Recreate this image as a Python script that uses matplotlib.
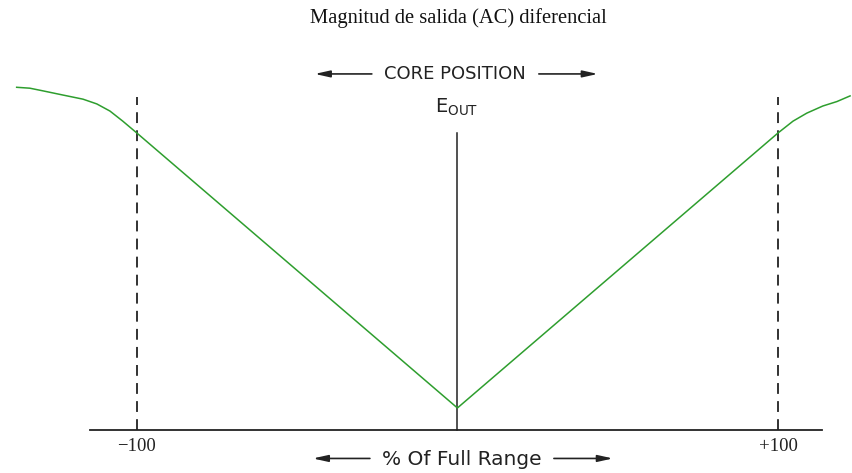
import matplotlib
matplotlib.use("Agg")
import matplotlib.pyplot as plt

# salida diferencial vs posicion del nucleo (% del rango)
posicion = [-137.5, -133.4, -129.3, -123.1, -116.8, -112.5, -108.4, -104.4, -100,
            0, 100, 104.7, 109.0, 114.0, 118.4, 122.5]
salida = [115.4, 115.1, 114.2, 112.8, 111.4, 109.8, 107.4, 104.0, 100,
          7.4, 100, 104.0, 106.7, 109.1, 110.6, 112.5]

marcas = [-100, 100]
marcas_txt = ["\u2212100", "+100"]

verde = "#2e9e2e"
gris = "#222222"

fig = plt.figure(figsize=(8.52, 4.73), dpi=100)
ax = fig.add_axes([0, 0, 1, 1])
ax.set_xlim(-142.7, 123.1)
ax.set_ylim(-14.5, 144.8)
ax.axis("off")

# eje horizontal y eje central
ax.plot([-114.7, 113.7], [0, 0], color=gris, lw=1.3)
ax.plot([0, 0], [0, 100], color=gris, lw=1.1)

# limites de rango
for m in marcas:
    ax.plot([m, m], [0, 112], color=gris, lw=1.3, linestyle=(0, (6, 4)))

ax.plot(posicion, salida, color=verde, lw=1.1)

for m, t in zip(marcas, marcas_txt):
    ax.text(m, -5.6, t, ha="center", va="center", fontsize=13.5,
            family="Liberation Serif", color=gris)

ax.text(0.3, 138.7, "Magnitud de salida (AC) diferencial", ha="center",
        va="center", fontsize=14.8, family="Liberation Serif", color="#111111")

ax.text(-0.8, 119.9, "CORE POSITION", ha="center", va="center",
        fontsize=13, color=gris)
ax.text(-6.9, 108.8, r"E$_{\mathregular{OUT}}$", ha="left", va="center",
        fontsize=14, color=gris)
ax.text(1.4, -9.9, "% Of Full Range", ha="center", va="center",
        fontsize=14.5, color=gris)

flecha = dict(arrowstyle="-|>,head_length=0.9,head_width=0.2", color=gris,
              lw=1.2, shrinkA=0, shrinkB=0)
ax.annotate("", xy=(-44.5, 119.9), xytext=(-26.7, 119.9), arrowprops=flecha)
ax.annotate("", xy=(43.8, 119.9), xytext=(25.4, 119.9), arrowprops=flecha)
ax.annotate("", xy=(-45.1, -9.6), xytext=(-27.3, -9.6), arrowprops=flecha)
ax.annotate("", xy=(48.5, -9.6), xytext=(30.1, -9.6), arrowprops=flecha)

fig.savefig("out.png", dpi=100)
